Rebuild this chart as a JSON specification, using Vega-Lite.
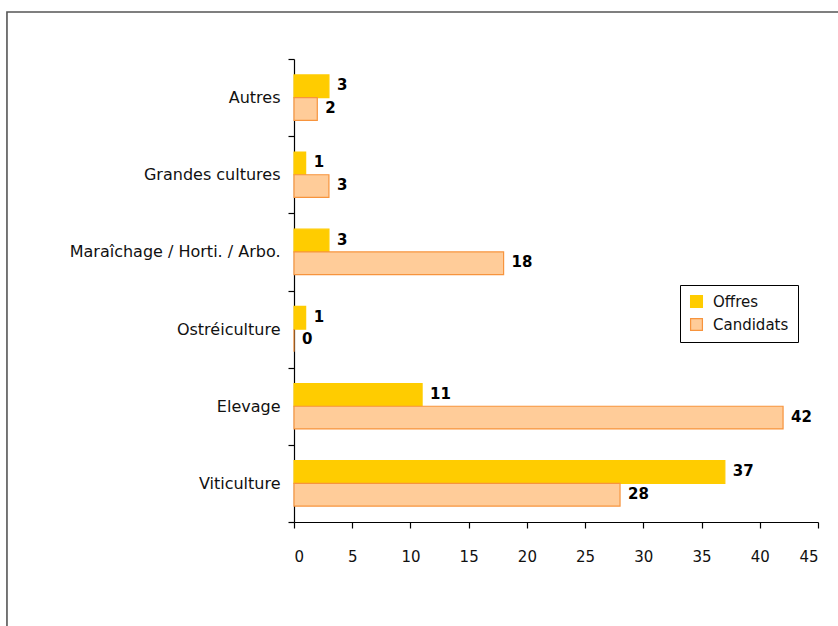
{
  "$schema": "https://vega.github.io/schema/vega-lite/v6.json",
  "autosize": "none",
  "width": 524,
  "height": 463,
  "padding": {"left": 294, "top": 59, "right": 20, "bottom": 104},
  "background": "white",
  "config": {
    "view": {"stroke": null},
    "font": "DejaVu Sans",
    "axis": {"labelFont": "DejaVu Sans", "labelColor": "#111", "domainColor": "#000", "tickColor": "#000", "domainWidth": 1.2, "tickWidth": 1.2}
  },
  "resolve": {"scale": {"y": "independent"}},
  "layer": [
    {
      "data": {"values": [{"frame": "border"}]},
      "mark": {"type": "rect", "fill": null, "stroke": "#555", "strokeWidth": 1.6, "clip": false},
      "encoding": {
        "x": {"datum": -24.65, "type": "quantitative", "scale": {"domain": [0, 45], "nice": false}},
        "x2": {"datum": 48},
        "y": {"datum": 1.1015, "type": "quantitative", "scale": {"domain": [0, 1], "nice": false, "zero": false}, "axis": null},
        "y2": {"datum": -0.3}
      }
    },
    {
      "data": {
        "values": [
          {"cat": "Autres", "serie": "Offres", "value": 3},
          {"cat": "Autres", "serie": "Candidats", "value": 2},
          {"cat": "Grandes cultures", "serie": "Offres", "value": 1},
          {"cat": "Grandes cultures", "serie": "Candidats", "value": 3},
          {"cat": "Maraîchage / Horti. / Arbo.", "serie": "Offres", "value": 3},
          {"cat": "Maraîchage / Horti. / Arbo.", "serie": "Candidats", "value": 18},
          {"cat": "Ostréiculture", "serie": "Offres", "value": 1},
          {"cat": "Ostréiculture", "serie": "Candidats", "value": 0},
          {"cat": "Elevage", "serie": "Offres", "value": 11},
          {"cat": "Elevage", "serie": "Candidats", "value": 42},
          {"cat": "Viticulture", "serie": "Offres", "value": 37},
          {"cat": "Viticulture", "serie": "Candidats", "value": 28}
        ]
      },
      "encoding": {
        "y": {
          "field": "cat", "type": "nominal",
          "sort": ["Autres", "Grandes cultures", "Maraîchage / Horti. / Arbo.", "Ostréiculture", "Elevage", "Viticulture"],
          "scale": {"paddingInner": 0, "paddingOuter": 0},
          "axis": {"title": null, "tickBand": "extent", "tickSize": 6, "labelFontSize": 16, "labelPadding": 8, "labelLimit": 400}
        },
        "yOffset": {
          "field": "serie", "type": "nominal", "sort": ["Offres", "Candidats"],
          "scale": {"paddingInner": 0, "paddingOuter": 0.7}
        },
        "x": {
          "field": "value", "type": "quantitative",
          "scale": {"domain": [0, 45], "nice": false},
          "axis": {"title": null, "values": [0, 5, 10, 15, 20, 25, 30, 35, 40, 45], "grid": false, "tickSize": 6, "labelFontSize": 15, "labelPadding": 21}
        }
      },
      "layer": [
        {
          "mark": {"type": "bar", "strokeWidth": 1.2},
          "encoding": {
            "color": {
              "field": "serie", "type": "nominal",
              "scale": {"domain": ["Offres", "Candidats"], "range": ["#FFCC00", "#FFCC99"]},
              "legend": {
                "title": null, "orient": "none", "legendX": 386, "legendY": 226,
                "strokeColor": "#000", "fillColor": "white", "padding": 9,
                "labelFontSize": 15, "labelOffset": 9, "labelColor": "#111", "symbolType": "square", "symbolSize": 140, "rowPadding": 6, "symbolStrokeWidth": 1.2
              }
            },
            "stroke": {
              "field": "serie", "type": "nominal",
              "scale": {"domain": ["Offres", "Candidats"], "range": ["#FFCC00", "#F7943D"]},
              "legend": {
                "title": null, "orient": "none", "legendX": 386, "legendY": 226,
                "strokeColor": "#000", "fillColor": "white", "padding": 9,
                "labelFontSize": 15, "labelOffset": 9, "labelColor": "#111", "symbolType": "square", "symbolSize": 140, "rowPadding": 6, "symbolStrokeWidth": 1.2
              }
            }
          }
        },
        {
          "mark": {"type": "text", "align": "left", "baseline": "middle", "dx": 8, "dy": -1, "fontWeight": "bold", "fontSize": 15, "color": "#000"},
          "encoding": {
            "text": {"field": "value", "type": "quantitative"}
          }
        }
      ]
    }
  ]
}
